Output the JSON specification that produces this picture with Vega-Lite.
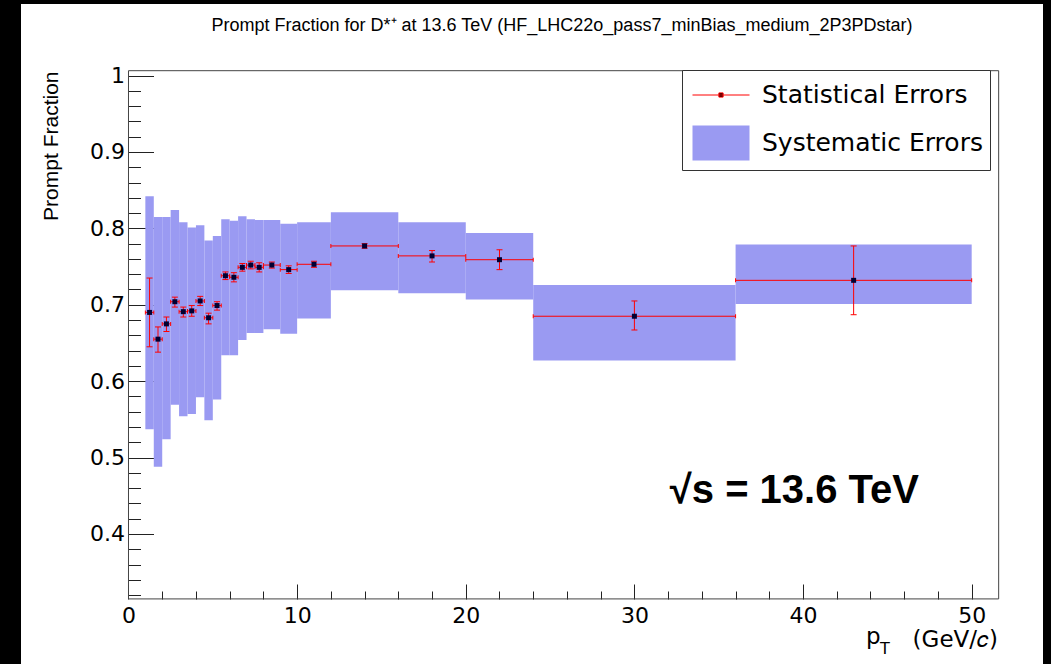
{
  "$schema": "https://vega.github.io/schema/vega-lite/v6.json",
  "width": 1022,
  "height": 660,
  "autosize": {"type": "none"},
  "padding": {"left": 21, "top": 4, "right": 8, "bottom": 0},
  "background": "#000000",
  "config": {
    "view": {"fill": "#ffffff", "stroke": null},
    "font": "Liberation Sans"
  },
  "title": {
    "text": "Prompt Fraction for D*⁺ at 13.6 TeV (HF_LHC22o_pass7_minBias_medium_2P3PDstar)",
    "font": "Liberation Sans",
    "fontSize": 18,
    "fontWeight": "normal",
    "color": "#000000",
    "anchor": "middle",
    "frame": "group",
    "offset": 0,
    "baseline": "bottom",
    "dx": 30,
    "dy": 49
  },
  "data": {
    "values": [
      {"lo": 1.0, "hi": 1.5, "pt": 1.25, "val": 0.690, "statLo": 0.645, "statHi": 0.735, "sysLo": 0.537, "sysHi": 0.842},
      {"lo": 1.5, "hi": 2.0, "pt": 1.75, "val": 0.655, "statLo": 0.638, "statHi": 0.671, "sysLo": 0.488, "sysHi": 0.815},
      {"lo": 2.0, "hi": 2.5, "pt": 2.25, "val": 0.675, "statLo": 0.665, "statHi": 0.684, "sysLo": 0.524, "sysHi": 0.815},
      {"lo": 2.5, "hi": 3.0, "pt": 2.75, "val": 0.704, "statLo": 0.697, "statHi": 0.710, "sysLo": 0.569, "sysHi": 0.824},
      {"lo": 3.0, "hi": 3.5, "pt": 3.25, "val": 0.691, "statLo": 0.684, "statHi": 0.697, "sysLo": 0.554, "sysHi": 0.808},
      {"lo": 3.5, "hi": 4.0, "pt": 3.75, "val": 0.692, "statLo": 0.685, "statHi": 0.699, "sysLo": 0.557, "sysHi": 0.801},
      {"lo": 4.0, "hi": 4.5, "pt": 4.25, "val": 0.705, "statLo": 0.699, "statHi": 0.711, "sysLo": 0.579, "sysHi": 0.804},
      {"lo": 4.5, "hi": 5.0, "pt": 4.75, "val": 0.683, "statLo": 0.675, "statHi": 0.689, "sysLo": 0.549, "sysHi": 0.784},
      {"lo": 5.0, "hi": 5.5, "pt": 5.25, "val": 0.699, "statLo": 0.693, "statHi": 0.704, "sysLo": 0.576, "sysHi": 0.790},
      {"lo": 5.5, "hi": 6.0, "pt": 5.75, "val": 0.738, "statLo": 0.733, "statHi": 0.743, "sysLo": 0.634, "sysHi": 0.812},
      {"lo": 6.0, "hi": 6.5, "pt": 6.25, "val": 0.736, "statLo": 0.730, "statHi": 0.742, "sysLo": 0.634, "sysHi": 0.810},
      {"lo": 6.5, "hi": 7.0, "pt": 6.75, "val": 0.749, "statLo": 0.744, "statHi": 0.754, "sysLo": 0.654, "sysHi": 0.816},
      {"lo": 7.0, "hi": 7.5, "pt": 7.25, "val": 0.752, "statLo": 0.747, "statHi": 0.757, "sysLo": 0.663, "sysHi": 0.812},
      {"lo": 7.5, "hi": 8.0, "pt": 7.75, "val": 0.749, "statLo": 0.743, "statHi": 0.755, "sysLo": 0.663, "sysHi": 0.811},
      {"lo": 8.0, "hi": 9.0, "pt": 8.5, "val": 0.752, "statLo": 0.748, "statHi": 0.756, "sysLo": 0.668, "sysHi": 0.811},
      {"lo": 9.0, "hi": 10.0, "pt": 9.5, "val": 0.746, "statLo": 0.741, "statHi": 0.751, "sysLo": 0.662, "sysHi": 0.806},
      {"lo": 10.0, "hi": 12.0, "pt": 11.0, "val": 0.753, "statLo": 0.749, "statHi": 0.757, "sysLo": 0.682, "sysHi": 0.808},
      {"lo": 12.0, "hi": 16.0, "pt": 14.0, "val": 0.777, "statLo": 0.774, "statHi": 0.780, "sysLo": 0.719, "sysHi": 0.821},
      {"lo": 16.0, "hi": 20.0, "pt": 18.0, "val": 0.764, "statLo": 0.756, "statHi": 0.771, "sysLo": 0.715, "sysHi": 0.808},
      {"lo": 20.0, "hi": 24.0, "pt": 22.0, "val": 0.759, "statLo": 0.746, "statHi": 0.772, "sysLo": 0.707, "sysHi": 0.794},
      {"lo": 24.0, "hi": 36.0, "pt": 30.0, "val": 0.685, "statLo": 0.667, "statHi": 0.705, "sysLo": 0.627, "sysHi": 0.726},
      {"lo": 36.0, "hi": 50.0, "pt": 43.0, "val": 0.732, "statLo": 0.687, "statHi": 0.777, "sysLo": 0.701, "sysHi": 0.779}
    ]
  },
  "layer": [
    {
      "mark": {"type": "rect", "opacity": 1},
      "encoding": {
        "x": {
          "field": "lo",
          "type": "quantitative",
          "scale": {"type": "linear", "domain": [-6.374, 54.229], "nice": false, "zero": false},
          "axis": {
            "title": null,
            "values": [0, 2, 4, 6, 8, 10, 12, 14, 16, 18, 20, 22, 24, 26, 28, 30, 32, 34, 36, 38, 40, 42, 44, 46, 48, 50],
            "tickCount": 100,
            "domain": false,
            "grid": false,
            "offset": -65,
            "tickSize": {"condition": {"test": "datum.value % 10 === 0", "value": -15}, "value": -8},
            "tickColor": "#222222",
            "tickWidth": 1,
            "labelExpr": "datum.value % 10 === 0 ? format(datum.value, 'd') : ''",
            "labelFont": "DejaVu Sans",
            "labelFontSize": 22,
            "labelColor": "#000000",
            "labelPadding": 21,
            "labelFlush": false,
            "labelOverlap": false,
            "labelBound": false
          }
        },
        "x2": {"field": "hi"},
        "y": {
          "field": "sysLo",
          "type": "quantitative",
          "scale": {"type": "linear", "domain": [0.2298, 1.0937], "nice": false, "zero": false},
          "axis": {
            "title": "Prompt Fraction",
            "titleFont": "Liberation Sans",
            "titleFontSize": 21,
            "titleFontWeight": "normal",
            "titleColor": "#000000",
            "titleAngle": 270,
            "titleAlign": "right",
            "titleBaseline": "alphabetic",
            "titleX": -71,
            "titleY": 67,
            "values": [0.32, 0.34, 0.36, 0.38, 0.4, 0.42, 0.44, 0.46, 0.48, 0.5, 0.52, 0.54, 0.56, 0.58, 0.6, 0.62, 0.64, 0.66, 0.68, 0.7, 0.72, 0.74, 0.76, 0.78, 0.8, 0.82, 0.84, 0.86, 0.88, 0.9, 0.92, 0.94, 0.96, 0.98, 1.0],
            "tickCount": 100,
            "domain": false,
            "grid": false,
            "offset": -107.5,
            "tickSize": {"condition": {"test": "abs(datum.value * 10 - round(datum.value * 10)) < 0.001", "value": -25}, "value": -12},
            "tickColor": "#222222",
            "tickWidth": 1,
            "labelExpr": "abs(datum.value * 10 - round(datum.value * 10)) < 0.001 ? format(datum.value, '.1~f') : ''",
            "labelFont": "DejaVu Sans",
            "labelFontSize": 22,
            "labelColor": "#000000",
            "labelPadding": 29,
            "labelFlush": false,
            "labelOverlap": false,
            "labelBound": false
          }
        },
        "y2": {"field": "sysHi"},
        "color": {
          "datum": "Systematic Errors",
          "type": "nominal",
          "scale": {"domain": ["Statistical Errors", "Systematic Errors"], "range": ["#000000", "#9a9af2"]},
          "legend": {
            "orient": "none",
            "legendX": 661,
            "legendY": 66,
            "title": null,
            "padding": 7,
            "strokeColor": "#333333",
            "fillColor": "#ffffff",
            "cornerRadius": 0,
            "labelFont": "DejaVu Sans",
            "labelFontSize": 25,
            "labelColor": "#000000",
            "labelLimit": 0,
            "labelOffset": 37,
            "rowPadding": 15,
            "symbolSize": 1225,
            "symbolOpacity": 1,
            "symbolStrokeWidth": 1,
            "symbolStrokeColor": {"expr": "datum.value === 'Statistical Errors' ? '#ff0000' : 'transparent'"},
            "symbolType": {"expr": "datum.value === 'Statistical Errors' ? 'M-0.829,0L2.429,0M0.68,-0.12L0.92,-0.12L0.92,0.12L0.68,0.12Z' : 'M-0.829,-1L2.429,-1L2.429,1L-0.829,1Z'"}
          }
        }
      }
    },
    {
      "data": {"values": [{}]},
      "mark": {"type": "rect", "fillOpacity": 0, "stroke": "#444444", "strokeWidth": 1},
      "encoding": {
        "x": {"datum": 0, "type": "quantitative"},
        "x2": {"datum": 51.6},
        "y": {"datum": 0.315, "type": "quantitative"},
        "y2": {"datum": 1.0064}
      }
    },
    {
      "mark": {"type": "rule", "strokeWidth": 1, "color": "#ff0000"},
      "encoding": {
        "x": {"field": "lo", "type": "quantitative"},
        "x2": {"field": "hi"},
        "y": {"field": "val", "type": "quantitative"}
      }
    },
    {
      "mark": {"type": "rule", "strokeWidth": 1, "color": "#ff0000"},
      "encoding": {
        "x": {"field": "pt", "type": "quantitative"},
        "y": {"field": "statLo", "type": "quantitative"},
        "y2": {"field": "statHi"}
      }
    },
    {
      "mark": {"type": "tick", "orient": "horizontal", "size": 6, "thickness": 1, "color": "#ff0000", "opacity": 1},
      "encoding": {
        "x": {"field": "pt", "type": "quantitative"},
        "y": {"field": "statLo", "type": "quantitative"}
      }
    },
    {
      "mark": {"type": "tick", "orient": "horizontal", "size": 6, "thickness": 1, "color": "#ff0000", "opacity": 1},
      "encoding": {
        "x": {"field": "pt", "type": "quantitative"},
        "y": {"field": "statHi", "type": "quantitative"}
      }
    },
    {
      "mark": {"type": "tick", "orient": "vertical", "size": 4, "thickness": 1, "color": "#ff0000", "opacity": 1},
      "encoding": {
        "x": {"field": "lo", "type": "quantitative"},
        "y": {"field": "val", "type": "quantitative"}
      }
    },
    {
      "mark": {"type": "tick", "orient": "vertical", "size": 4, "thickness": 1, "color": "#ff0000", "opacity": 1},
      "encoding": {
        "x": {"field": "hi", "type": "quantitative"},
        "y": {"field": "val", "type": "quantitative"}
      }
    },
    {
      "mark": {"type": "square", "size": 25, "color": "#000033", "opacity": 1},
      "encoding": {
        "x": {"field": "pt", "type": "quantitative"},
        "y": {"field": "val", "type": "quantitative"}
      }
    },
    {
      "data": {"values": [{}]},
      "mark": {"type": "text", "text": "√s = 13.6 TeV", "font": "Liberation Sans", "fontWeight": "bold", "fontSize": 40, "align": "left", "baseline": "alphabetic", "color": "#000000"},
      "encoding": {
        "x": {"datum": 32.1, "type": "quantitative"},
        "y": {"datum": 0.441, "type": "quantitative"}
      }
    },
    {
      "data": {"values": [{}]},
      "mark": {"type": "text", "text": "(GeV/𝑐)", "font": "DejaVu Sans", "fontSize": 23, "align": "right", "baseline": "alphabetic", "color": "#000000"},
      "encoding": {
        "x": {"datum": 51.56, "type": "quantitative"},
        "y": {"datum": 0.2521, "type": "quantitative"}
      }
    },
    {
      "data": {"values": [{}]},
      "mark": {"type": "text", "text": "p", "font": "DejaVu Sans", "fontSize": 23, "align": "left", "baseline": "alphabetic", "color": "#000000"},
      "encoding": {
        "x": {"datum": 43.73, "type": "quantitative"},
        "y": {"datum": 0.2561, "type": "quantitative"}
      }
    },
    {
      "data": {"values": [{}]},
      "mark": {"type": "text", "text": "T", "font": "DejaVu Sans", "fontSize": 16, "align": "left", "baseline": "alphabetic", "color": "#000000"},
      "encoding": {
        "x": {"datum": 44.56, "type": "quantitative"},
        "y": {"datum": 0.2429, "type": "quantitative"}
      }
    }
  ]
}
